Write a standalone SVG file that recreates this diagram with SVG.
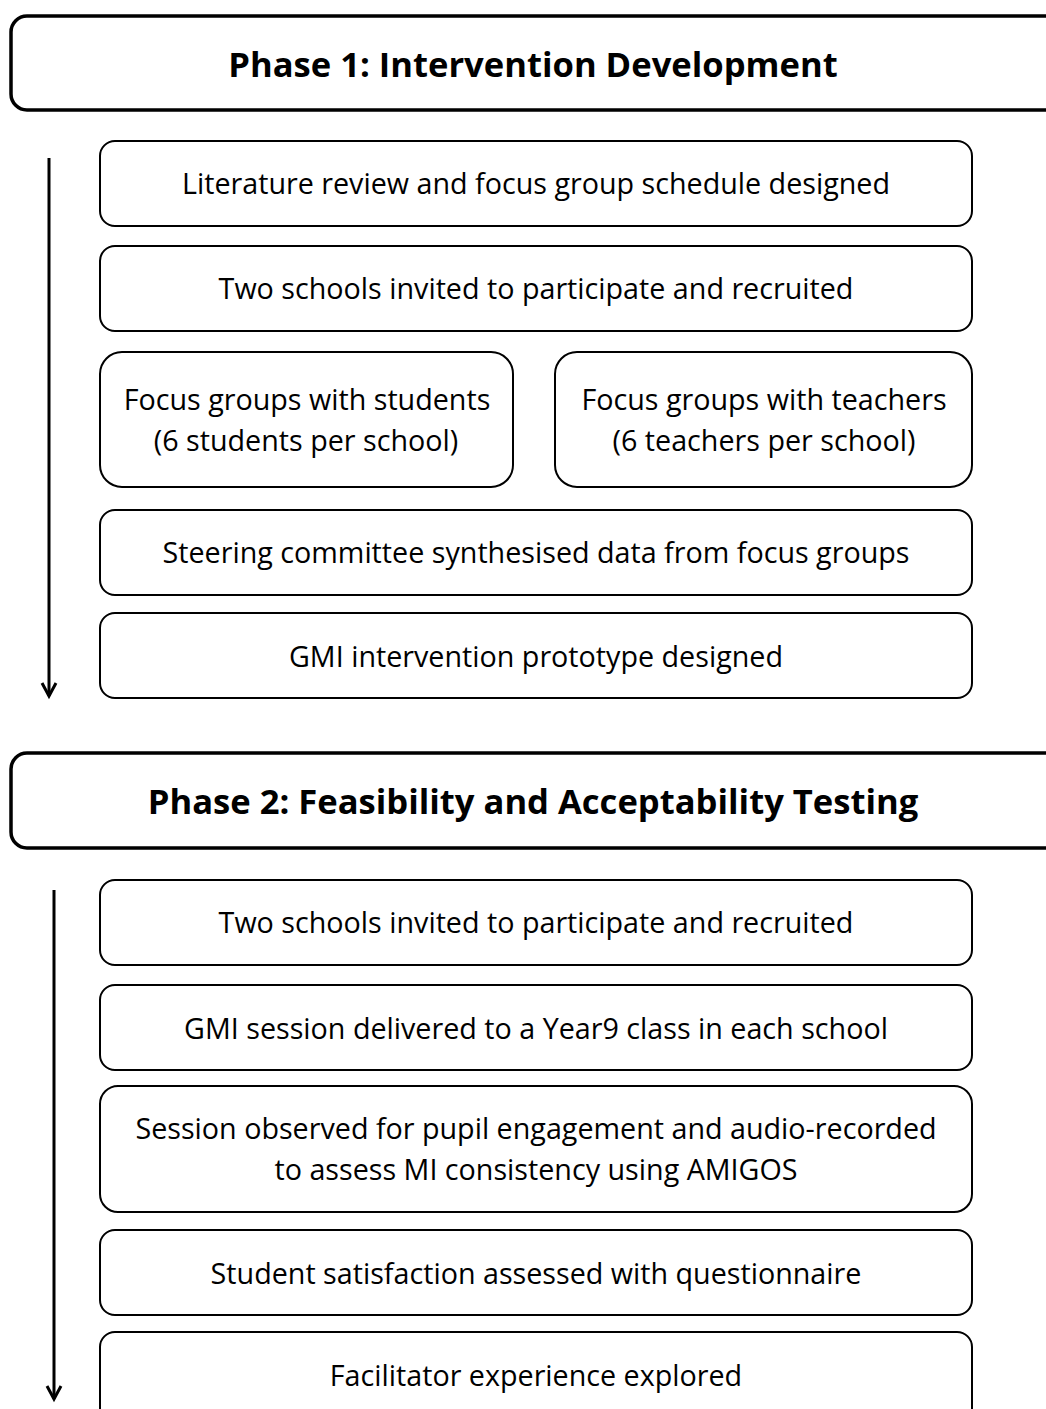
<svg xmlns="http://www.w3.org/2000/svg" width="1046" height="1409" viewBox="0 0 1046 1409">
<style>
.phase{fill:#fff;stroke:#000;stroke-width:3.5}
.box{fill:#fff;stroke:#000;stroke-width:2}
.t{font-family:"Open Sans","Liberation Sans",sans-serif;font-size:28.7px;fill:#000;text-anchor:middle;dominant-baseline:central}
.h{font-family:"Open Sans","Liberation Sans",sans-serif;font-size:34.6px;font-weight:bold;fill:#000;text-anchor:middle;dominant-baseline:central}
.arr{stroke:#000;stroke-width:3;fill:none}
</style>
<rect width="1046" height="1409" fill="#fff"/>
<g id="phase1">
<rect class="phase" x="11" y="16" width="1050" height="94" rx="16"/>
<text class="h" x="533" y="63">Phase 1: Intervention Development</text>
</g>
<g id="n1"><rect class="box" x="100" y="141" width="872" height="85" rx="15"/><text class="t" x="536" y="182.5">Literature review and focus group schedule designed</text></g>
<g id="n2"><rect class="box" x="100" y="246" width="872" height="85" rx="15"/><text class="t" x="536" y="287.5">Two schools invited to participate and recruited</text></g>
<g id="n3"><rect class="box" x="100" y="352" width="413" height="135" rx="22"/><text class="t" x="307" y="398.5">Focus groups with students</text><text class="t" x="306" y="439.5">(6 students per school)</text></g>
<g id="n4"><rect class="box" x="555" y="352" width="417" height="135" rx="22"/><text class="t" x="764" y="398.5">Focus groups with teachers</text><text class="t" x="764" y="439.5">(6 teachers per school)</text></g>
<g id="n5"><rect class="box" x="100" y="510" width="872" height="85" rx="15"/><text class="t" x="536" y="551.5">Steering committee synthesised data from focus groups</text></g>
<g id="n6"><rect class="box" x="100" y="613" width="872" height="85" rx="15"/><text class="t" x="536" y="655.5">GMI intervention prototype designed</text></g>
<g id="phase2">
<rect class="phase" x="11" y="753" width="1050" height="95" rx="16"/>
<text class="h" x="533" y="800">Phase 2: Feasibility and Acceptability Testing</text>
</g>
<g id="n7"><rect class="box" x="100" y="880" width="872" height="85" rx="15"/><text class="t" x="536" y="921.5">Two schools invited to participate and recruited</text></g>
<g id="n8"><rect class="box" x="100" y="985" width="872" height="85" rx="15"/><text class="t" x="536" y="1027.5">GMI session delivered to a Year9 class in each school</text></g>
<g id="n9"><rect class="box" x="100" y="1086" width="872" height="126" rx="18"/><text class="t" x="536" y="1127.5">Session observed for pupil engagement and audio-recorded</text><text class="t" x="536" y="1168.5">to assess MI consistency using AMIGOS</text></g>
<g id="n10"><rect class="box" x="100" y="1230" width="872" height="85" rx="15"/><text class="t" x="536" y="1272.5">Student satisfaction assessed with questionnaire</text></g>
<g id="n11"><rect class="box" x="100" y="1332" width="872" height="100" rx="15"/><text class="t" x="536" y="1374.5">Facilitator experience explored</text></g>
<g id="connectors">
<line class="arr" x1="49" y1="158" x2="49" y2="696"/>
<polyline class="arr" points="42,683 49,696 56,683"/>
<line class="arr" x1="54" y1="890" x2="54" y2="1399"/>
<polyline class="arr" points="47,1386 54,1399 61,1386"/>
</g>
</svg>
